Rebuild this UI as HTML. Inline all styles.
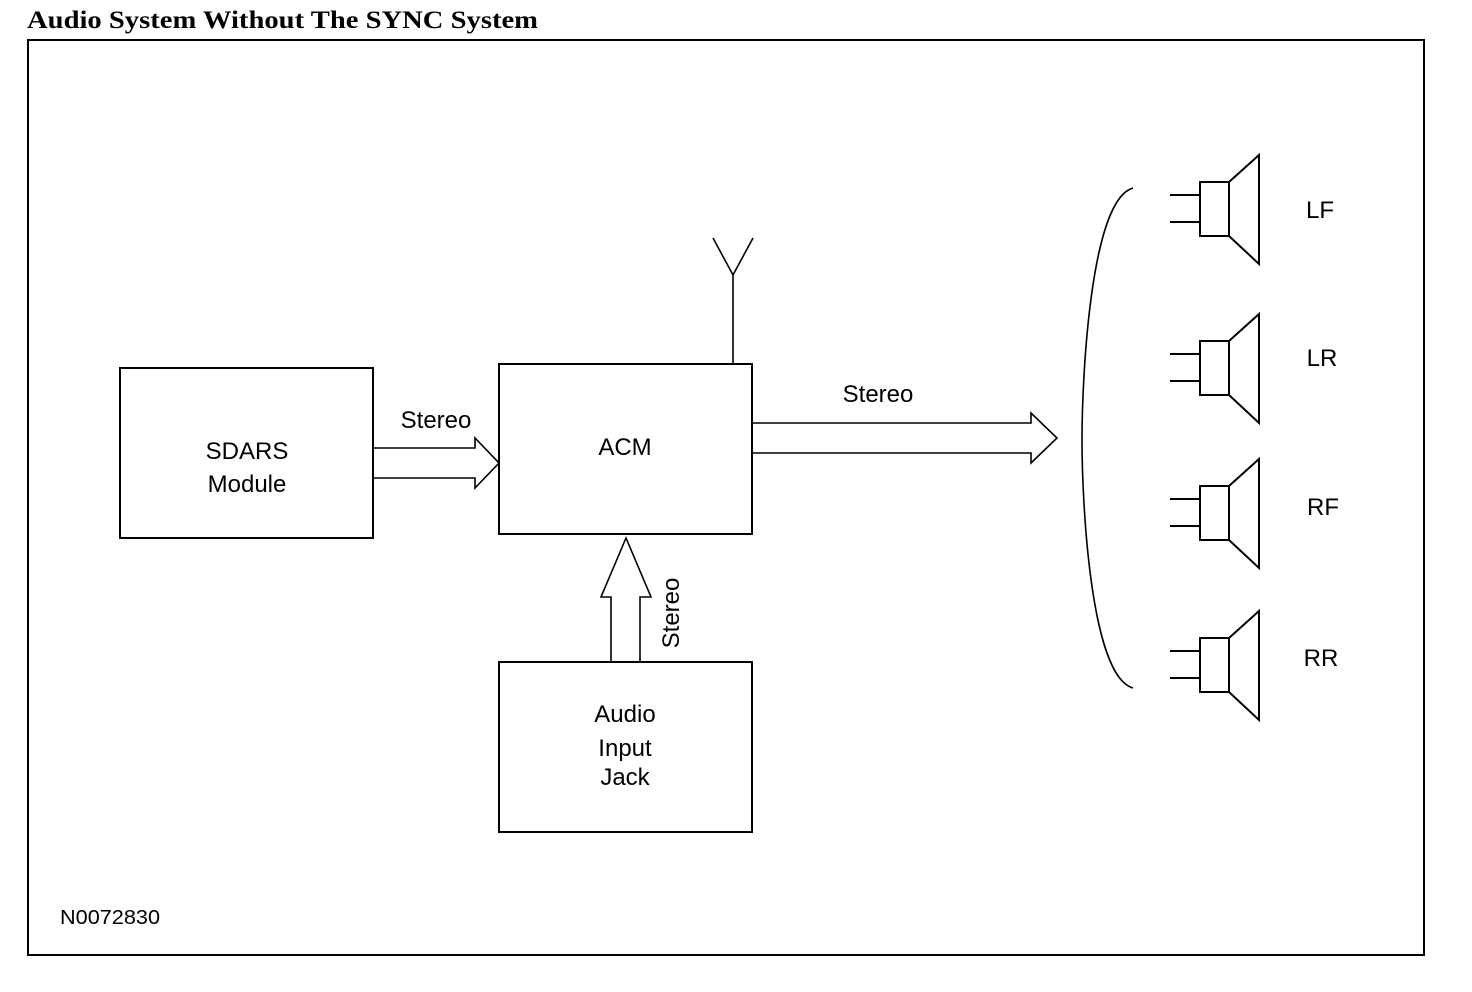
<!DOCTYPE html>
<html><head><style>body{margin:0;background:#fff}svg{display:block}</style></head><body>
<svg width="1472" height="992" viewBox="0 0 1472 992" xmlns="http://www.w3.org/2000/svg" font-family="Liberation Sans, Arial, sans-serif" fill="none" stroke="#000">
<text x="27" y="28" font-family="Liberation Serif, serif" font-weight="bold" font-size="25" textLength="511" lengthAdjust="spacingAndGlyphs" fill="#000" stroke="none">Audio System Without The SYNC System</text>
<rect x="28" y="40" width="1396" height="915" stroke-width="2"/>
<rect x="120" y="368" width="253" height="170" stroke-width="2"/>
<rect x="499" y="364" width="253" height="170" stroke-width="2"/>
<rect x="499" y="662" width="253" height="170" stroke-width="2"/>
<g fill="#000" stroke="none" font-size="24" text-anchor="middle">
<text x="247" y="459">SDARS</text><text x="247" y="492">Module</text>
<text x="625" y="455">ACM</text>
<text x="625" y="722">Audio</text><text x="625" y="756">Input</text><text x="625" y="785">Jack</text>
<text x="436" y="428">Stereo</text>
<text x="878" y="402">Stereo</text>
<text x="1320" y="218">LF</text><text x="1322" y="366">LR</text><text x="1323" y="515">RF</text><text x="1321" y="666">RR</text>
<text transform="translate(679,613) rotate(-90)">Stereo</text>
<text x="60" y="924" font-size="20" text-anchor="start" textLength="100" lengthAdjust="spacingAndGlyphs">N0072830</text>
</g>
<g stroke-width="1.6">
<path d="M373 448H475V438L499 463L475 488V478H373"/>
<path d="M733 364V275M713 238L733 275L753 238"/>
<path d="M611 662V597H601L626 538L651 597H640V662"/>
<path d="M752 423H1031V413L1057 438L1031 463V453H752"/>
<path d="M1133 188C1090 200 1082 380 1082 440C1082 500 1090 676 1133 688"/>
</g>
<g stroke-width="2">
<path d="M1170 195H1200M1170 222H1200M1200 182H1229V236H1200ZM1229 182L1259 155V264L1229 236"/>
<path d="M1170 354H1200M1170 381H1200M1200 341H1229V395H1200ZM1229 341L1259 314V423L1229 395"/>
<path d="M1170 499H1200M1170 526H1200M1200 486H1229V540H1200ZM1229 486L1259 459V568L1229 540"/>
<path d="M1170 651H1200M1170 678H1200M1200 638H1229V692H1200ZM1229 638L1259 611V720L1229 692"/>
</g>
</svg>
</body></html>
